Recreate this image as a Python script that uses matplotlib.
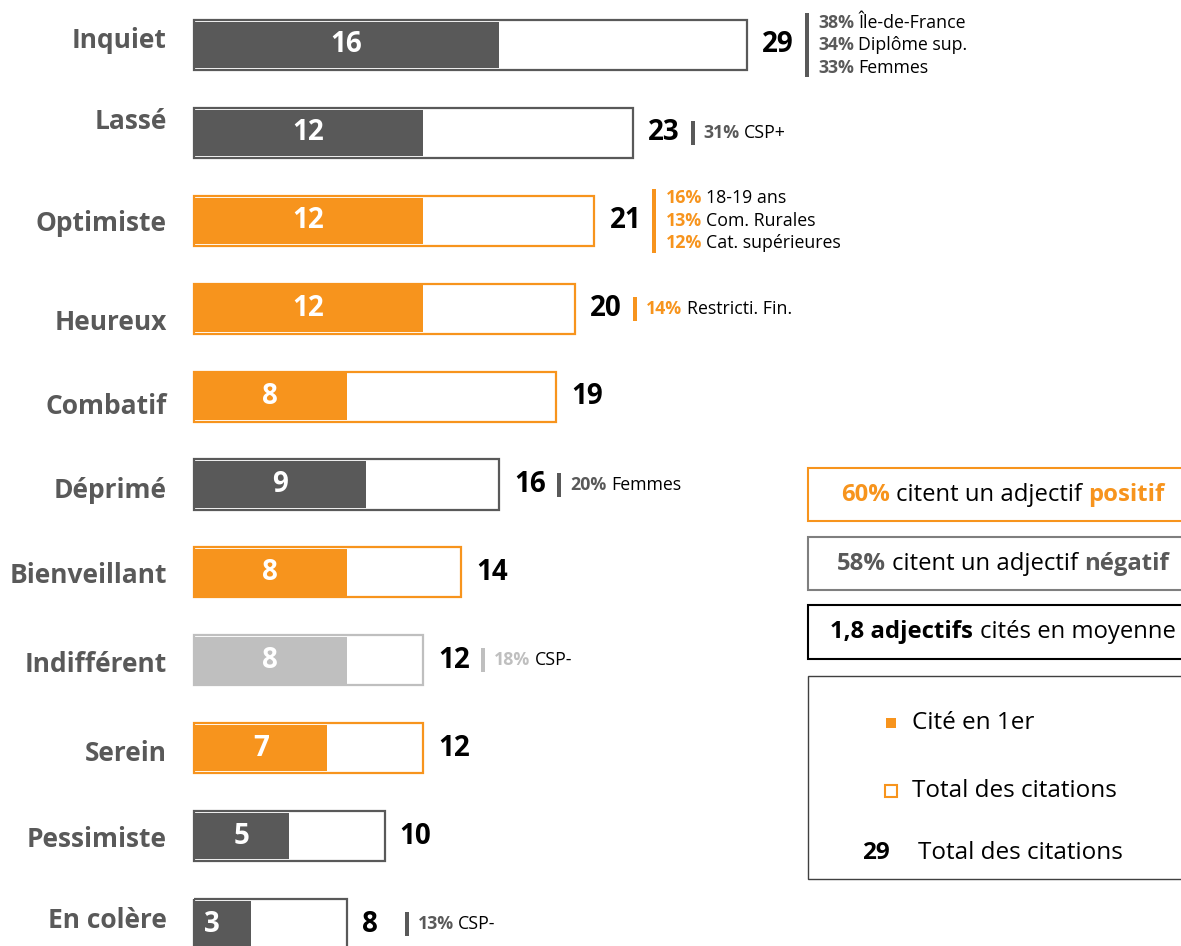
import matplotlib
matplotlib.use("Agg")
import matplotlib.pyplot as plt
from matplotlib.patches import Rectangle
from matplotlib.transforms import IdentityTransform

plt.rcParams["font.family"] = ["Open Sans", "DejaVu Sans"]

# ===== DATA =====
categories   = ["Inquiet", "Lassé", "Optimiste", "Heureux", "Combatif", "Déprimé",
                "Bienveillant", "Indifférent", "Serein", "Pessimiste", "En colère"]
first_cited  = [16, 12, 12, 12, 8, 9, 8, 8, 7, 5, 3]
total_cited  = [29, 23, 21, 20, 19, 16, 14, 12, 12, 10, 8]
tone         = ["neg", "neg", "pos", "pos", "pos", "neg", "pos", "neu", "pos", "neg", "neg"]
subgroups    = [
    [("38%", "Île-de-France"), ("34%", "Diplôme sup."), ("33%", "Femmes")],
    [("31%", "CSP+")],
    [("16%", "18-19 ans"), ("13%", "Com. Rurales"), ("12%", "Cat. supérieures")],
    [("14%", "Restricti. Fin.")],
    [],
    [("20%", "Femmes")],
    [],
    [("18%", "CSP-")],
    [],
    [],
    [("13%", "CSP-")],
]
pct_positive   = "60%"
pct_negative   = "58%"
mean_adjectifs = "1,8"
legend_number  = "29"

# ===== STYLE =====
W, H, DPI = 1181, 946, 100
COLORS = {"neg": "#595959", "pos": "#F7941D", "neu": "#BFBFBF"}
LABEL_GREY = "#595959"
label_dy = [-5, -11, 3, 14, 10, 6, 3, 4, 5, 3, -3]   # label nudges (px, down)

fig = plt.figure(figsize=(W / DPI, H / DPI), dpi=DPI)
ax = fig.add_axes([0, 0, 1, 1])
ax.axis("off")

PX_UNIT = 553 / 29          # pixels per citation unit
ROW = 87.9                  # pixels between rows
ax.set_xlim(-194 / PX_UNIT, (W - 194) / PX_UNIT)
ax.set_ylim((H - 45) / ROW, -45 / ROW)

ypos = list(range(len(categories)))
cols = [COLORS[t] for t in tone]

ax.barh(ypos, total_cited, height=0.57, facecolor="white", edgecolor="none", zorder=1)
ax.barh(ypos, first_cited, height=0.53, color=cols, zorder=2)
ax.barh(ypos, total_cited, height=0.57, facecolor="none", edgecolor=cols,
        linewidth=1.6, zorder=3)

renderer = fig.canvas.get_renderer()


def disp(x, y):
    return x, H - y


def rich(x, y, parts, size, ha="left"):
    """parts: list of (text, color, weight); a space is put between parts."""
    sp_a = fig.text(0, 0, "x x", fontsize=size, transform=IdentityTransform())
    sp_b = fig.text(0, 0, "xx", fontsize=size, transform=IdentityTransform())
    gap = sp_a.get_window_extent(renderer).width - sp_b.get_window_extent(renderer).width
    sp_a.remove(); sp_b.remove()
    items = []
    for s, c, w in parts:
        t = fig.text(0, 0, s, color=c, fontweight=w, fontsize=size, va="center",
                     ha="left", transform=IdentityTransform())
        items.append((t, t.get_window_extent(renderer).width))
    total = sum(w for _, w in items) + gap * (len(items) - 1)
    cx = x - total / 2 if ha == "center" else x
    for t, w in items:
        t.set_position(disp(cx, y))
        cx += w + gap


for i, cat in enumerate(categories):
    # category label
    ax.annotate(cat, (0, i), xytext=(-27, -label_dy[i]), textcoords="offset pixels",
                ha="right", va="center", fontsize=19, fontweight="bold",
                color=LABEL_GREY)
    # first-cited value inside the fill
    if first_cited[i] >= 4:
        ax.text(first_cited[i] / 2, i, str(first_cited[i]), ha="center", va="center",
                fontsize=20, fontweight="bold", color="white", zorder=4)
    else:
        ax.annotate(str(first_cited[i]), (0, i), xytext=(10, 0), textcoords="offset pixels",
                    ha="left", va="center", fontsize=20, fontweight="bold",
                    color="white", zorder=4)
    # total value
    ax.annotate(str(total_cited[i]), (total_cited[i], i), xytext=(15, 0),
                textcoords="offset pixels", ha="left", va="center",
                fontsize=20, fontweight="bold", color="black")
    # sub-group highlights
    sg = subgroups[i]
    if sg:
        end_px = 194 + total_cited[i] * PX_UNIT
        cy = 45 + i * ROW
        n = len(sg)
        span = 20 * n + 4
        fig.patches.append(Rectangle(disp(end_px + 58, cy + span / 2), 4, span,
                                     transform=IdentityTransform(), color=cols[i],
                                     linewidth=0))
        for k, (pct, grp) in enumerate(sg):
            ly = cy + (k - (n - 1) / 2) * 22.5
            rich(end_px + 71, ly, [(pct, cols[i], "bold"), (grp, "black", "normal")],
                 size=12.8)

# ===== SUMMARY BOXES =====
BOX_X = 808
boxes = [
    (468, 521, COLORS["pos"],
     [(pct_positive, COLORS["pos"], "bold"), ("citent un adjectif", "black", "normal"),
      ("positif", COLORS["pos"], "bold")]),
    (537, 590, "#7F7F7F",
     [(pct_negative, COLORS["neg"], "bold"), ("citent un adjectif", "black", "normal"),
      ("négatif", COLORS["neg"], "bold")]),
    (605, 659, "black",
     [(mean_adjectifs + " adjectifs", "black", "bold"), ("cités en moyenne", "black", "normal")]),
]
for top, bot, ec, parts in boxes:
    fig.patches.append(Rectangle(disp(BOX_X, bot), W - BOX_X + 10, bot - top,
                                 transform=IdentityTransform(), facecolor="white",
                                 edgecolor=ec, linewidth=1.5))
    rich(1003, (top + bot) / 2, parts, size=17.2, ha="center")

# legend box
fig.patches.append(Rectangle(disp(BOX_X, 879), W - BOX_X + 10, 879 - 676,
                             transform=IdentityTransform(), facecolor="white",
                             edgecolor="#404040", linewidth=1.0))
fig.patches.append(Rectangle(disp(886, 728), 10, 10, transform=IdentityTransform(),
                             facecolor=COLORS["pos"], linewidth=0))
fig.patches.append(Rectangle(disp(885, 797), 12, 12, transform=IdentityTransform(),
                             facecolor="white", edgecolor=COLORS["pos"], linewidth=1.5))
fig.text(*disp(912, 723), "Cité en 1er", transform=IdentityTransform(),
         fontsize=17.5, va="center", ha="left")
fig.text(*disp(912, 791), "Total des citations", transform=IdentityTransform(),
         fontsize=17.5, va="center", ha="left")
fig.text(*disp(862, 853), legend_number, transform=IdentityTransform(),
         fontsize=17.5, fontweight="bold", va="center", ha="left")
fig.text(*disp(918, 853), "Total des citations", transform=IdentityTransform(),
         fontsize=17.5, va="center", ha="left")

fig.savefig("out.png", dpi=DPI, facecolor="white")
